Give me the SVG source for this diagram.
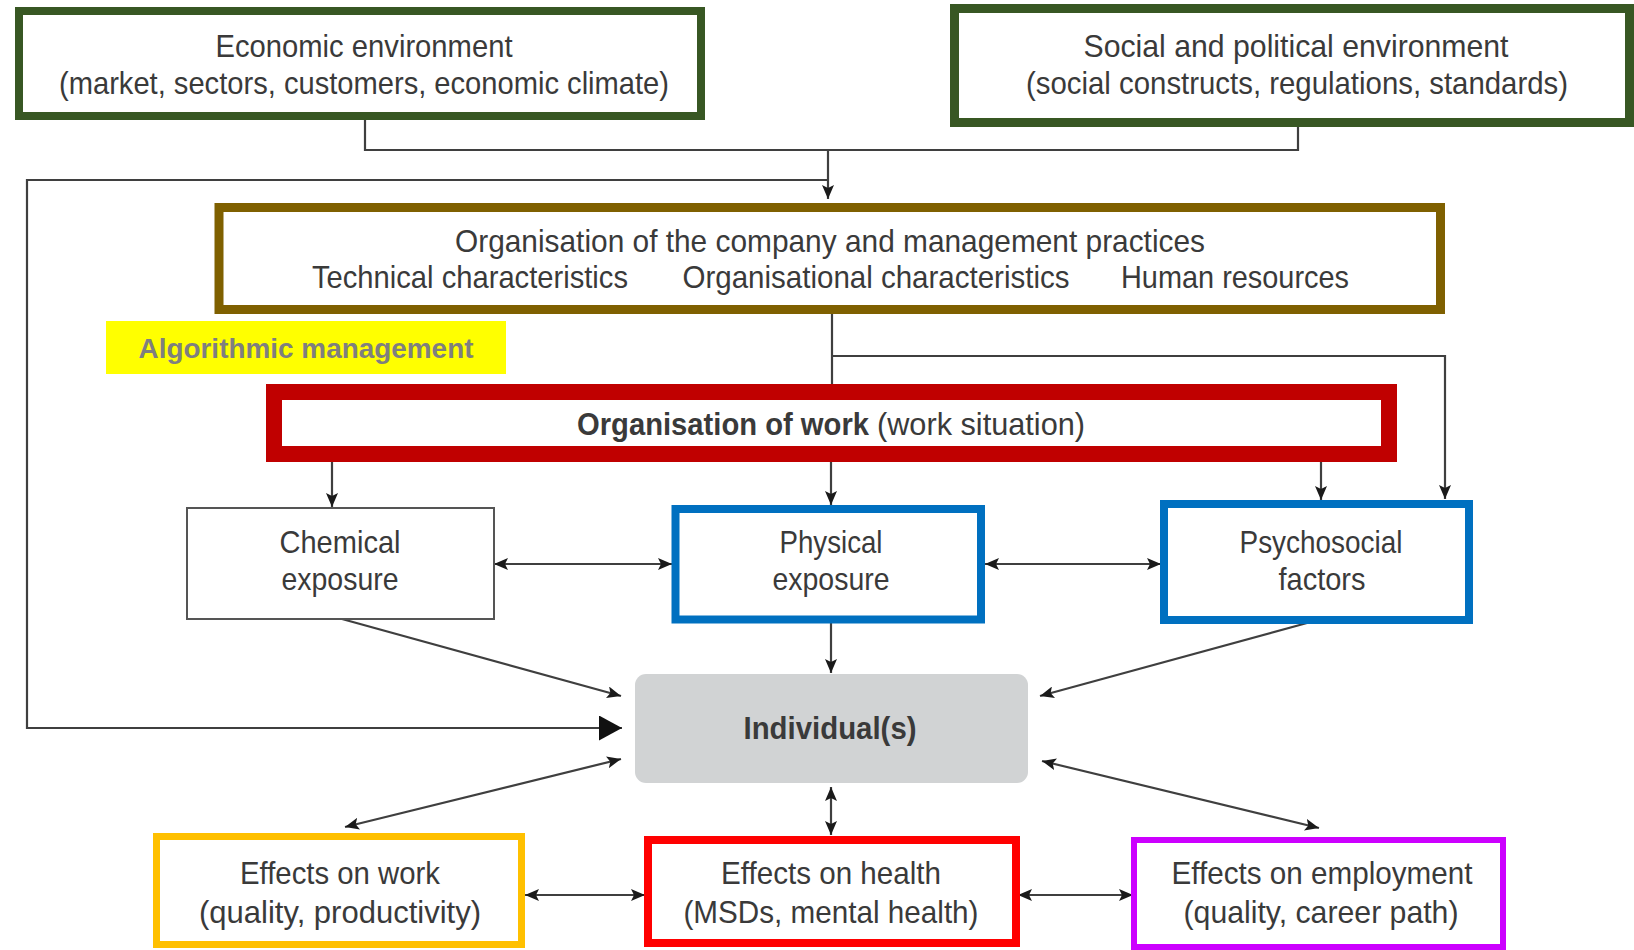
<svg xmlns="http://www.w3.org/2000/svg" width="1634" height="950" viewBox="0 0 1634 950">
<defs>
<style>
.t{font-family:"Liberation Sans",Arial,sans-serif;font-size:30.5px;fill:#3a3a3a;text-anchor:middle}
.b{font-weight:bold}
.ln{fill:none;stroke:#3f3f3f;stroke-width:2.2}
.box{fill:#ffffff}
</style>
<marker id="ah" markerUnits="userSpaceOnUse" markerWidth="14" markerHeight="12" refX="14" refY="6" orient="auto-start-reverse" viewBox="0 0 14 12">
<path d="M0,0 L14,6 L0,12 L3,6 z" fill="#1a1a1a"/>
</marker>
<marker id="big" markerUnits="userSpaceOnUse" markerWidth="23" markerHeight="25" refX="23" refY="12.5" orient="auto" viewBox="0 0 23 25">
<path d="M0,0 L23,12.5 L0,25 z" fill="#111"/>
</marker>
</defs>
<rect width="1634" height="950" fill="#ffffff"/>

<g id="connectors">
<path class="ln" d="M365,120 V150 H1298 V127"/>
<path class="ln" d="M828,150 V199" marker-end="url(#ah)"/>
<path class="ln" d="M828,180 H27 V728 H622" marker-end="url(#big)"/>
<path class="ln" d="M832,314 V386"/>
<path class="ln" d="M832,356 H1445 V499" marker-end="url(#ah)"/>
<path class="ln" d="M332,462 V507" marker-end="url(#ah)"/>
<path class="ln" d="M831,462 V505" marker-end="url(#ah)"/>
<path class="ln" d="M1321,462 V500" marker-end="url(#ah)"/>
<path class="ln" d="M494,564 H672" marker-start="url(#ah)" marker-end="url(#ah)"/>
<path class="ln" d="M985,564 H1161" marker-start="url(#ah)" marker-end="url(#ah)"/>
<path class="ln" d="M342,619 L621,696" marker-end="url(#ah)"/>
<path class="ln" d="M831,623 V673" marker-end="url(#ah)"/>
<path class="ln" d="M1307,623 L1040,696" marker-end="url(#ah)"/>
<path class="ln" d="M621,759 L345,827" marker-start="url(#ah)" marker-end="url(#ah)"/>
<path class="ln" d="M831,787 V835" marker-start="url(#ah)" marker-end="url(#ah)"/>
<path class="ln" d="M1042,761 L1319,828" marker-start="url(#ah)" marker-end="url(#ah)"/>
<path class="ln" d="M525,895 H645" marker-start="url(#ah)" marker-end="url(#ah)"/>
<path class="ln" d="M1018,895 H1133" marker-start="url(#ah)" marker-end="url(#ah)"/>
</g>

<g id="economic">
<rect class="box" x="19" y="11" width="682" height="105" stroke="#385723" stroke-width="8"/>
<text class="t" x="364" y="57" textLength="297" lengthAdjust="spacingAndGlyphs">Economic environment</text>
<text class="t" x="364" y="94" textLength="610" lengthAdjust="spacingAndGlyphs">(market, sectors, customers, economic climate)</text>
</g>

<g id="social">
<rect class="box" x="954.5" y="8.5" width="675" height="114" stroke="#385723" stroke-width="9"/>
<text class="t" x="1296" y="57" textLength="425" lengthAdjust="spacingAndGlyphs">Social and political environment</text>
<text class="t" x="1297" y="94" textLength="542" lengthAdjust="spacingAndGlyphs">(social constructs, regulations, standards)</text>
</g>

<g id="company">
<rect class="box" x="219" y="207.5" width="1221.5" height="102" stroke="#7f6000" stroke-width="9"/>
<text class="t" x="830" y="252" textLength="750" lengthAdjust="spacingAndGlyphs">Organisation of the company and management practices</text>
<text class="t" x="470" y="288" textLength="316" lengthAdjust="spacingAndGlyphs">Technical characteristics</text>
<text class="t" x="876" y="288" textLength="387" lengthAdjust="spacingAndGlyphs">Organisational characteristics</text>
<text class="t" x="1235" y="288" textLength="228" lengthAdjust="spacingAndGlyphs">Human resources</text>
</g>

<g id="algorithmic">
<rect x="106" y="321" width="400" height="53" fill="#ffff00"/>
<text class="t b" x="306" y="358" style="font-size:27px;fill:#7f7f7f" textLength="335" lengthAdjust="spacingAndGlyphs">Algorithmic management</text>
</g>

<g id="work-organisation">
<rect class="box" x="274" y="392" width="1115" height="62" stroke="#c00000" stroke-width="16"/>
<text class="t b" x="577" y="435" style="text-anchor:start" textLength="292" lengthAdjust="spacingAndGlyphs">Organisation of work</text>
<text class="t" x="877" y="435" style="text-anchor:start" textLength="208" lengthAdjust="spacingAndGlyphs">(work situation)</text>
</g>

<g id="chemical">
<rect class="box" x="187" y="508" width="307" height="111" stroke="#555555" stroke-width="2"/>
<text class="t" x="340" y="553" textLength="121" lengthAdjust="spacingAndGlyphs">Chemical</text>
<text class="t" x="340" y="590" textLength="117" lengthAdjust="spacingAndGlyphs">exposure</text>
</g>

<g id="physical">
<rect class="box" x="675.5" y="509" width="305.5" height="110.5" stroke="#0070c0" stroke-width="8"/>
<text class="t" x="831" y="553" textLength="103" lengthAdjust="spacingAndGlyphs">Physical</text>
<text class="t" x="831" y="590" textLength="117" lengthAdjust="spacingAndGlyphs">exposure</text>
</g>

<g id="psychosocial">
<rect class="box" x="1164" y="504" width="305" height="116" stroke="#0070c0" stroke-width="8"/>
<text class="t" x="1321" y="553" textLength="163" lengthAdjust="spacingAndGlyphs">Psychosocial</text>
<text class="t" x="1322" y="590" textLength="87" lengthAdjust="spacingAndGlyphs">factors</text>
</g>

<g id="individuals">
<rect x="635" y="674" width="393" height="109" rx="11" fill="#d1d3d4"/>
<text class="t b" x="830" y="739" textLength="173" lengthAdjust="spacingAndGlyphs">Individual(s)</text>
</g>

<g id="effects-work">
<rect class="box" x="156.5" y="836.5" width="365" height="108" stroke="#ffc000" stroke-width="7"/>
<text class="t" x="340" y="884" textLength="200" lengthAdjust="spacingAndGlyphs">Effects on work</text>
<text class="t" x="340" y="923" textLength="282" lengthAdjust="spacingAndGlyphs">(quality, productivity)</text>
</g>

<g id="effects-health">
<rect class="box" x="648" y="840" width="368" height="103" stroke="#ff0000" stroke-width="8"/>
<text class="t" x="831" y="884" textLength="220" lengthAdjust="spacingAndGlyphs">Effects on health</text>
<text class="t" x="831" y="923" textLength="295" lengthAdjust="spacingAndGlyphs">(MSDs, mental health)</text>
</g>

<g id="effects-employment">
<rect class="box" x="1134" y="840" width="369" height="107" stroke="#cc00ff" stroke-width="6"/>
<text class="t" x="1322" y="884" textLength="301" lengthAdjust="spacingAndGlyphs">Effects on employment</text>
<text class="t" x="1321" y="923" textLength="275" lengthAdjust="spacingAndGlyphs">(quality, career path)</text>
</g>
</svg>
